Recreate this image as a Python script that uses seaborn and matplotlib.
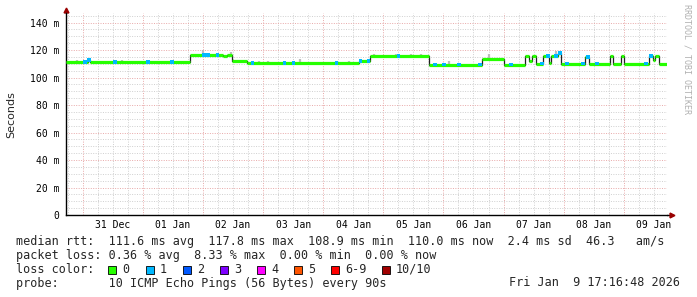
import numpy as np
import pandas as pd
import matplotlib
matplotlib.use("Agg")
import matplotlib.pyplot as plt
import matplotlib.dates as mdates
from matplotlib.patches import Rectangle
from matplotlib.ticker import FuncFormatter, MultipleLocator
import seaborn as sns

# ---------------- data ----------------
t_start = "2025-12-30 17:16:48"
t_end = "2026-01-09 17:16:48"

seg_times = ["2025-12-30 17:16", "2025-12-31 02:07", "2025-12-31 02:55",
             "2026-01-01 18:55", "2026-01-02 08:07", "2026-01-02 09:43",
             "2026-01-02 11:43", "2026-01-02 17:43", "2026-01-04 14:07",
             "2026-01-04 18:31", "2026-01-05 18:07", "2026-01-06 15:19",
             "2026-01-07 00:19", "2026-01-07 08:31", "2026-01-07 10:19",
             "2026-01-07 11:19", "2026-01-07 12:55", "2026-01-07 15:36",
             "2026-01-07 18:00", "2026-01-07 18:55", "2026-01-07 21:43",
             "2026-01-07 22:55", "2026-01-08 08:31", "2026-01-08 10:07",
             "2026-01-08 18:31", "2026-01-08 19:43", "2026-01-08 22:55",
             "2026-01-09 00:07", "2026-01-09 10:07", "2026-01-09 11:43",
             "2026-01-09 12:31", "2026-01-09 14:07"]
seg_values = [111.4, 112.8, 111.4,
              116.3, 115.6, 116.3,
              112.4, 110.7, 112.2,
              115.8, 109.5, 113.6,
              109.5, 115.6, 111.9,
              115.6, 110.2, 115.6,
              110.5, 115.6, 118.0,
              110.2, 115.2, 110.2,
              116.0, 110.2, 115.6,
              110.2, 115.6, 113.0,
              115.6, 110.2]

loss1_times = ["2025-12-31 00:55", "2025-12-31 02:20", "2025-12-31 12:55", "2026-01-01 02:07",
               "2026-01-01 11:43", "2026-01-02 00:31", "2026-01-02 02:07", "2026-01-02 05:43",
               "2026-01-02 19:43", "2026-01-03 08:31", "2026-01-03 12:07", "2026-01-04 05:19",
               "2026-01-04 14:55", "2026-01-04 18:07", "2026-01-05 06:07", "2026-01-05 20:31",
               "2026-01-06 00:07", "2026-01-06 06:07", "2026-01-06 14:31", "2026-01-07 02:55",
               "2026-01-07 15:19", "2026-01-07 17:43", "2026-01-07 20:55", "2026-01-07 22:40",
               "2026-01-08 01:19", "2026-01-08 07:43", "2026-01-08 09:43", "2026-01-08 13:19",
               "2026-01-09 08:55", "2026-01-09 10:55"]

smoke_times = ["2025-12-30 21:43", "2025-12-31 15:43", "2026-01-02 00:07", "2026-01-02 05:43",
               "2026-01-02 11:19", "2026-01-02 22:31", "2026-01-03 02:07", "2026-01-03 14:55",
               "2026-01-04 10:07", "2026-01-04 20:07", "2026-01-05 05:00", "2026-01-05 11:00",
               "2026-01-05 15:00", "2026-01-06 02:07", "2026-01-06 18:07", "2026-01-07 21:00"]
smoke_tops = [112.5, 112.6, 120.4, 117.8,
              118.4, 112.4, 112.0, 113.6,
              111.8, 117.2, 117.2, 117.0,
              117.0, 112.0, 117.0, 119.5]

y_ticks = [0, 20, 40, 60, 80, 100, 120, 140]
day_labels = ["31 Dec", "01 Jan", "02 Jan", "03 Jan", "04 Jan", "05 Jan",
              "06 Jan", "07 Jan", "08 Jan", "09 Jan"]
loss_labels = ["0", "1", "2", "3", "4", "5", "6-9", "10/10"]
loss_colors = ["#26ff00", "#00b8ff", "#0059ff", "#7e00ff", "#ff00ff",
               "#ff5500", "#ff0000", "#a10000"]

line1 = "median rtt:  111.6 ms avg  117.8 ms max  108.9 ms min  110.0 ms now  2.4 ms sd  46.3   am/s"
line2 = "packet loss: 0.36 % avg  8.33 % max  0.00 % min  0.00 % now"
line4 = "probe:       10 ICMP Echo Pings (56 Bytes) every 90s"
stamp = "Fri Jan  9 17:16:48 2026"

# ---------------- build frames ----------------
seg = pd.DataFrame({"t": pd.to_datetime(seg_times, format="%Y-%m-%d %H:%M"), "v": seg_values})
seg_end = list(seg["t"].iloc[1:]) + [pd.Timestamp(t_end)]
line_df = pd.concat([seg, pd.DataFrame({"t": [pd.Timestamp(t_end)], "v": [seg_values[-1]]})],
                    ignore_index=True)

def median_at(ts):
    idx = np.searchsorted(seg["t"].values, ts.values, side="right") - 1
    return np.array(seg_values)[idx]

loss_df = pd.DataFrame({"t": pd.to_datetime(loss1_times, format="%Y-%m-%d %H:%M")})
loss_df["v"] = median_at(loss_df["t"])
smoke_df = pd.DataFrame({"t": pd.to_datetime(smoke_times, format="%Y-%m-%d %H:%M"), "top": smoke_tops})
smoke_df["v"] = median_at(smoke_df["t"])

# ---------------- figure ----------------
sns.set_style("white")
plt.rcParams["font.family"] = ["DejaVu Sans Mono", "DejaVu Sans"]

W, H = 697, 297
fig = plt.figure(figsize=(W / 100, H / 100), dpi=100)
ax = fig.add_axes([66 / W, 82 / H, 601 / W, 202 / H])

x0, x1 = pd.Timestamp(t_start), pd.Timestamp(t_end)
ax.set_xlim(x0, x1)
ax.set_ylim(0, 147)

# grids
ax.yaxis.set_major_locator(MultipleLocator(20))
ax.yaxis.set_minor_locator(MultipleLocator(5))
ax.xaxis.set_major_locator(mdates.DayLocator())
ax.xaxis.set_minor_locator(mdates.HourLocator(byhour=[0, 6, 12, 18]))
ax.grid(which="minor", color="#cfcfcf", linestyle=(0, (1, 1.5)), linewidth=0.7)
ax.grid(which="major", color="#e8a8a8", linestyle=(0, (1, 1.5)), linewidth=0.7)
ax.set_axisbelow(True)

ax.yaxis.set_major_formatter(FuncFormatter(lambda v, p: "0" if v == 0 else f"{int(v)} m"))
ax.tick_params(axis="y", which="major", length=3, width=0.8, labelsize=7, pad=2, colors="black")
ax.tick_params(axis="y", which="minor", length=0)
ax.tick_params(axis="x", which="major", length=2, width=0.8, labelbottom=False, direction="inout")
ax.tick_params(axis="x", which="minor", length=0)

for s in ["top", "right"]:
    ax.spines[s].set_visible(False)
for s in ["left", "bottom"]:
    ax.spines[s].set_color("black")
    ax.spines[s].set_linewidth(1.0)

# day labels at noon
for i, lab in enumerate(day_labels):
    tnoon = pd.Timestamp("2025-12-31 12:00") + pd.Timedelta(days=i)
    ax.text(tnoon, -0.05, lab, transform=ax.get_xaxis_transform(), ha="center", va="center",
            fontsize=7, color="black")

# smoke
ax.vlines(smoke_df["t"], smoke_df["v"], smoke_df["top"], color="#bdbdbd", linewidth=1.6, zorder=2)

# median line: black connectors then green levels
sns.lineplot(data=line_df, x="t", y="v", drawstyle="steps-post", color="#202020",
             linewidth=0.9, ax=ax, zorder=3, legend=False)
ax.hlines(seg["v"], seg["t"], seg_end, color=loss_colors[0], linewidth=2.3, zorder=4)
sns.scatterplot(data=loss_df, x="t", y="v", marker="s", s=7, color=loss_colors[1],
                edgecolor="none", ax=ax, zorder=5, legend=False)
ax.set_xlim(x0, x1)
ax.set_ylim(0, 147)
ax.set_xlabel("")
ax.set_ylabel("")

# axis extensions + arrows
ax.plot([0, 0], [1.0, 1.015], transform=ax.transAxes, color="black", lw=1, clip_on=False)
ax.plot([0], [1.015], marker="^", markersize=3.5, color="#990000", transform=ax.transAxes,
        clip_on=False)
ax.plot([1.0, 1.008], [0, 0], transform=ax.transAxes, color="black", lw=1, clip_on=False)
ax.plot([1.008], [0], marker=">", markersize=3.5, color="#990000", transform=ax.transAxes,
        clip_on=False)

# labels
fig.text(11 / W, 1 - 115 / H, "Seconds", rotation=90, ha="center", va="center",
         fontsize=8, family="DejaVu Sans")
fig.text(687 / W, 1 - 4 / H, "RRDTOOL / TOBI OETIKER", rotation=-90, ha="center", va="top",
         fontsize=6, color="#b0b0b0")

fs = 8.5
fig.text(16 / W, 1 - 242 / H, line1, ha="left", va="center", fontsize=fs)
fig.text(16 / W, 1 - 255.5 / H, line2, ha="left", va="center", fontsize=fs)
fig.text(16 / W, 1 - 269.5 / H, "loss color:", ha="left", va="center", fontsize=fs)
fig.text(16 / W, 1 - 283 / H, line4, ha="left", va="center", fontsize=fs)
fig.text(680 / W, 1 - 283 / H, stamp, ha="right", va="center", fontsize=fs)

box_x = [108, 145.5, 182.7, 219.7, 257, 294, 331, 381.7]
for bx, lab, col in zip(box_x, loss_labels, loss_colors):
    fig.patches.append(Rectangle((bx / W, 1 - 273.5 / H), 8 / W, 8 / H, transform=fig.transFigure,
                                 facecolor=col, edgecolor="black", linewidth=0.6))
    fig.text((bx + 14) / W, 1 - 269.5 / H, lab, ha="left", va="center", fontsize=fs)

fig.savefig("out.png", dpi=100)
